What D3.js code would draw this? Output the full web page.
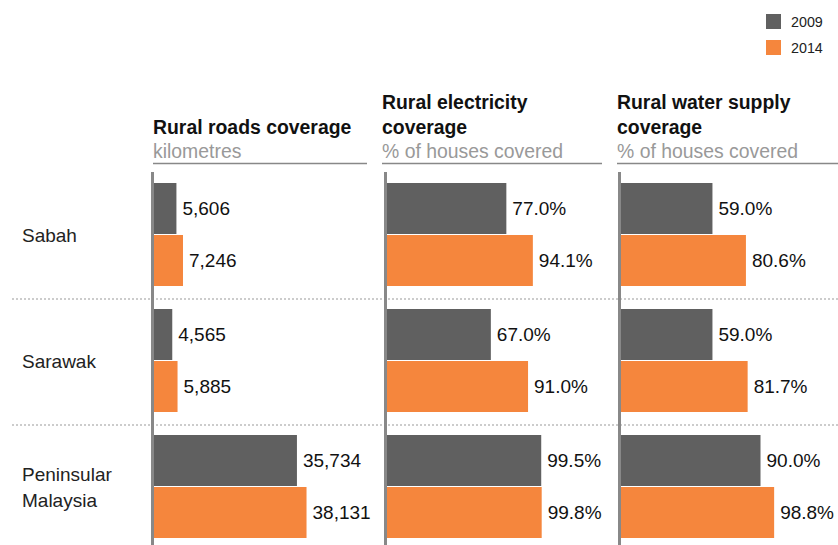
<!DOCTYPE html>
<html><head><meta charset="utf-8">
<script src="https://cdn.jsdelivr.net/npm/d3@7"></script>
<style>body{margin:0;background:#fff}svg{display:block;font-family:"Liberation Sans",Arial,sans-serif}</style>
</head><body><svg id="c" width="838" height="545"></svg>
<script>
const regions = ["Sabah", "Sarawak", "Peninsular Malaysia"];
const years = ["2009", "2014"];
const colors = ["#606060", "#f5863d"];
const panelTitles = [["Rural roads coverage"], ["Rural electricity", "coverage"], ["Rural water supply", "coverage"]];
const panelUnits = ["kilometres", "% of houses covered", "% of houses covered"];
const roads2009 = [5606, 4565, 35734];
const roads2014 = [7246, 5885, 38131];
const elec2009 = [77.0, 67.0, 99.5];
const elec2014 = [94.1, 91.0, 99.8];
const water2009 = [59.0, 59.0, 90.0];
const water2014 = [80.6, 81.7, 98.8];

const svg = d3.select("#c");
const panels = [
  {x: 154, ulx: 153, ulw: 214, max: 40000, fmt: d3.format(","), v: [roads2009, roads2014]},
  {x: 387, ulx: 382, ulw: 220, max: 100, fmt: d => d.toFixed(1) + "%", v: [elec2009, elec2014]},
  {x: 621, ulx: 617, ulw: 221, max: 100, fmt: d => d.toFixed(1) + "%", v: [water2009, water2014]}
];
const maxW = [160, 155, 155];
const FS = 19;

const rowH = 126;
const rowTop = i => 183 + i * rowH;

// separators
[299, 425].forEach(y => svg.append("line").attr("x1", 12).attr("x2", 838).attr("y1", y).attr("y2", y)
  .attr("stroke", "#999").attr("stroke-width", 1.2).attr("stroke-dasharray", "2,2"));

// legend
years.forEach((yr, i) => {
  svg.append("rect").attr("x", 766).attr("y", 14 + i * 26).attr("width", 15).attr("height", 15).attr("fill", colors[i]);
  svg.append("text").attr("x", 791).attr("y", 27 + i * 26).attr("font-size", 14.3).attr("fill", "#222").text(yr);
});

// row labels
regions.forEach((r, i) => {
  const words = r === "Peninsular Malaysia" ? ["Peninsular", "Malaysia"] : [r];
  const cy = rowTop(i) + 52;
  words.forEach((w, j) => {
    svg.append("text").attr("x", 22).attr("y", cy + 7 + (j - (words.length - 1) / 2) * 26)
      .attr("font-size", FS).attr("fill", "#222").text(w);
  });
});

panels.forEach((p, k) => {
  const g = svg.append("g");
  const x = d3.scaleLinear().domain([0, p.max]).range([p.x, p.x + maxW[k]]);
  const lines = panelTitles[k];
  lines.forEach((t, j) => {
    g.append("text").attr("x", p.ulx).attr("y", 134 - (lines.length - 1 - j) * 25)
      .attr("font-size", 19.4).attr("font-weight", "bold").attr("fill", "#111").text(t);
  });
  g.append("text").attr("x", p.ulx).attr("y", 157.5).attr("font-size", 19.4).attr("fill", "#999").text(panelUnits[k]);
  g.append("line").attr("x1", p.ulx).attr("x2", p.ulx + p.ulw).attr("y1", 163.5).attr("y2", 163.5)
    .attr("stroke", "#888").attr("stroke-width", 1.3);
  regions.forEach((r, i) => {
    years.forEach((yr, s) => {
      const v = p.v[s][i];
      const y0 = rowTop(i) + s * 52;
      g.append("rect").attr("x", x(0)).attr("y", y0).attr("width", x(v) - x(0)).attr("height", 51)
        .attr("fill", colors[s]);
      g.append("text").attr("x", x(v) + 6).attr("y", y0 + 25.5).attr("dy", "0.35em")
        .attr("font-size", FS).attr("fill", "#111").text(p.fmt(v));
    });
  });
  g.append("line").attr("x1", p.x - 1.5).attr("x2", p.x - 1.5).attr("y1", 172).attr("y2", 545)
    .attr("stroke", "#888").attr("stroke-width", 3);
});
</script></body></html>
